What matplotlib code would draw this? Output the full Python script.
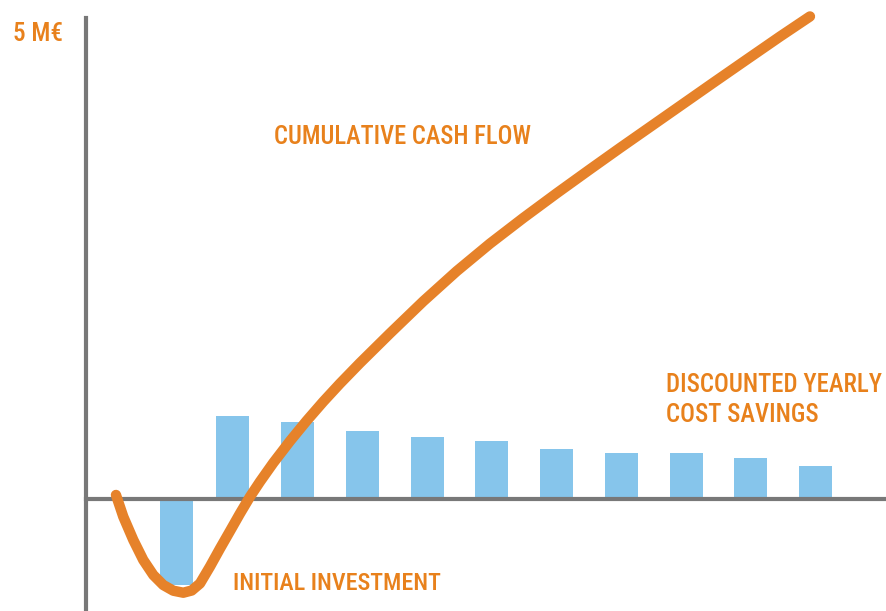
import matplotlib

matplotlib.use("Agg")
import matplotlib.pyplot as plt
from matplotlib import font_manager

# yearly discounted cost savings (M€); the investment bar sits just after year 0
years = [0.13, 1, 2, 3, 4, 5, 6, 7, 8, 9, 10]
savings = [-0.89, 0.86, 0.80, 0.71, 0.64, 0.60, 0.52, 0.48, 0.48, 0.43, 0.34]

# cumulative cash flow curve (year, M€)
curve_x = [-0.808, -0.695, -0.540, -0.386, -0.231, -0.077, 0.078, 0.232, 0.362, 0.490,
           0.645, 0.799, 0.954, 1.108, 1.263, 1.417, 1.623, 1.881, 2.139, 2.395,
           2.653, 2.962, 3.426, 3.940, 4.456, 4.971, 5.485, 6.006, 6.516, 6.980,
           7.397, 7.907, 8.417, 8.942, 9.452, 9.915]
curve_y = [0.042, -0.184, -0.426, -0.634, -0.790, -0.894, -0.953, -0.974, -0.951, -0.878,
           -0.702, -0.515, -0.333, -0.151, 0.024, 0.180, 0.376, 0.602, 0.814, 1.012,
           1.200, 1.414, 1.722, 2.055, 2.368, 2.655, 2.921, 3.180, 3.427, 3.649,
           3.845, 4.085, 4.325, 4.570, 4.807, 5.016]

y_top = 5
y_label = "5 M€"
label_curve = "CUMULATIVE CASH FLOW"
label_bars = ["DISCOUNTED YEARLY", "COST SAVINGS"]
label_invest = "INITIAL INVESTMENT"

ORANGE = "#E6822A"
TEXT = "#E8811C"
BLUE = "#86C5EB"
GREY = "#787878"

W, H = 886, 611

# a narrow face suits the labels; use what is installed
names = {f.name for f in font_manager.fontManager.ttflist}
family = "DejaVu Sans"
for cand in ["Liberation Sans Narrow", "Roboto Condensed", "Open Sans Condensed", "Roboto"]:
    if cand in names:
        family = cand
        break
plt.rcParams["font.family"] = [family, "DejaVu Sans"]

fig = plt.figure(figsize=(W / 100, H / 100), dpi=100)
ax = fig.add_axes([0, 0, 1, 1])

ax.bar(years, savings, width=0.51, color=BLUE, zorder=1)
ax.plot(curve_x, curve_y, color=ORANGE, lw=7.5, solid_capstyle="round",
        solid_joinstyle="round", zorder=3)

ax.set_xlim(-2.600, 11.090)
ax.set_ylim(-1.164, 5.187)

for side in ("top", "right"):
    ax.spines[side].set_visible(False)
ax.spines["left"].set_position(("data", -1.271))
ax.spines["left"].set_bounds(-1.164, y_top)
ax.spines["bottom"].set_position(("data", 0))
ax.spines["bottom"].set_bounds(-1.271, 11.090)
for side in ("left", "bottom"):
    ax.spines[side].set_color(GREY)
    ax.spines[side].set_linewidth(3)
    ax.spines[side].set_zorder(2)
ax.set_xticks([])
ax.set_yticks([])
ax.patch.set_visible(False)

renderer = fig.canvas.get_renderer()


def label(text, left, base, width, max_size=24):
    t = ax.text(left / W, 1 - base / H, text, transform=ax.transAxes, color=TEXT,
                fontsize=max_size, va="baseline", ha="left", fontstretch="condensed",
                fontweight="medium")
    for _ in range(2):
        w = t.get_window_extent(renderer).width
        t.set_fontsize(min(max_size, t.get_fontsize() * width / w))
    return t


label(y_label, 13, 41, 50)
label(label_curve, 274, 144, 257)
label(label_bars[0], 666, 392, 215)
label(label_bars[1], 666, 422, 152)
label(label_invest, 233, 590, 207)

fig.savefig("out.png", dpi=100)
